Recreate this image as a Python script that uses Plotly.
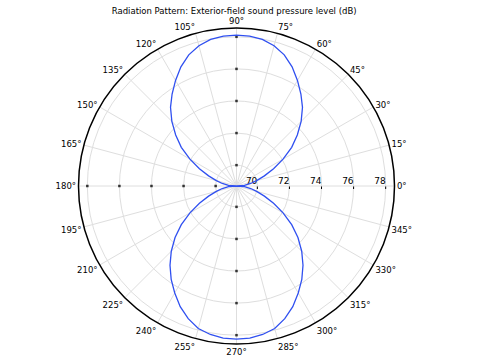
import plotly.graph_objects as go

# Angles (degrees) and exterior-field sound pressure level (dB)
theta_deg = [0, 5, 10, 15, 20, 25, 30, 35, 40, 45, 50, 55, 60, 65, 70, 75, 80, 85,
             90, 95, 100, 105, 110, 115, 120, 125, 130, 135, 140, 145, 150, 155, 160, 165, 170, 175,
             180, 185, 190, 195, 200, 205, 210, 215, 220, 225, 230, 235, 240, 245, 250, 255, 260, 265,
             270, 275, 280, 285, 290, 295, 300, 305, 310, 315, 320, 325, 330, 335, 340, 345, 350, 355, 360]
spl_db = [68.7, 69.2, 69.6, 70.0, 70.55, 71.25, 72.05, 72.9, 73.65, 74.4, 75.1, 75.7, 76.3, 76.9, 77.4, 77.75, 77.98, 78.08,
          78.1, 78.08, 77.98, 77.75, 77.4, 76.9, 76.3, 75.7, 75.1, 74.4, 73.65, 72.9, 72.05, 71.25, 70.55, 70.0, 69.6, 69.2,
          68.7, 69.2, 69.6, 70.0, 70.55, 71.25, 72.05, 72.9, 73.7, 74.45, 75.15, 75.8, 76.4, 77.0, 77.5, 77.9, 78.1, 78.22,
          78.25, 78.22, 78.1, 77.9, 77.5, 77.0, 76.4, 75.8, 75.15, 74.45, 73.7, 72.9, 72.05, 71.25, 70.55, 70.0, 69.6, 69.2, 68.7]

radial_ticks = [70, 72, 74, 76, 78]
angular_ticks = list(range(0, 360, 15))
angular_labels = [f"{a}°" for a in angular_ticks]
minor_tick_angles = [90, 180, 270]

fig = go.Figure()

fig.add_trace(go.Scatterpolar(
    r=[v for _ in minor_tick_angles for v in radial_ticks],
    theta=[a for a in minor_tick_angles for _ in radial_ticks],
    mode="markers",
    marker=dict(symbol="square", size=2.5, color="#333333"),
    hoverinfo="skip",
))

# radial tick labels, sitting just above the 0° line, left of each tick
fig.add_trace(go.Scatterpolar(
    r=radial_ticks,
    theta=[0] * len(radial_ticks),
    mode="text",
    text=[str(v) for v in radial_ticks],
    textposition="top left",
    textfont=dict(family="DejaVu Sans", size=9, color="black"),
    cliponaxis=False,
    hoverinfo="skip",
))

fig.add_trace(go.Scatterpolar(
    r=spl_db,
    theta=theta_deg,
    mode="lines",
    line=dict(color="#3050f0", width=1.3),
))

fig.update_layout(
    width=478, height=364,
    margin=dict(l=0, r=5, t=28, b=20),
    paper_bgcolor="white",
    showlegend=False,
    font=dict(family="DejaVu Sans", size=9, color="black"),
    title=dict(
        text="Radiation Pattern: Exterior-field sound pressure level (dB)",
        x=0.495, xanchor="center", xref="paper",
        y=1 - 11 / 364, yanchor="middle", yref="container",
        font=dict(family="DejaVu Sans", size=8.5, color="black"),
    ),
    polar=dict(
        bgcolor="white",
        domain=dict(x=[0, 1], y=[0, 1]),
        radialaxis=dict(
            range=[68.7, 78.55],
            tickvals=radial_ticks,
            showticklabels=False,
            angle=0, tickangle=0,
            side="clockwise",
            showline=False,
            ticks="outside", ticklen=2.5, tickcolor="black", tickwidth=1,
            gridcolor="#dedede", gridwidth=1,
        ),
        angularaxis=dict(
            direction="counterclockwise", rotation=0,
            tickmode="array", tickvals=angular_ticks, ticktext=angular_labels,
            showline=True, linecolor="black", linewidth=1.5,
            gridcolor="#dedede", gridwidth=1,
            ticks="",
            tickfont=dict(family="DejaVu Sans", size=8.5, color="black"),
        ),
    ),
)

fig.write_html("out.html")
